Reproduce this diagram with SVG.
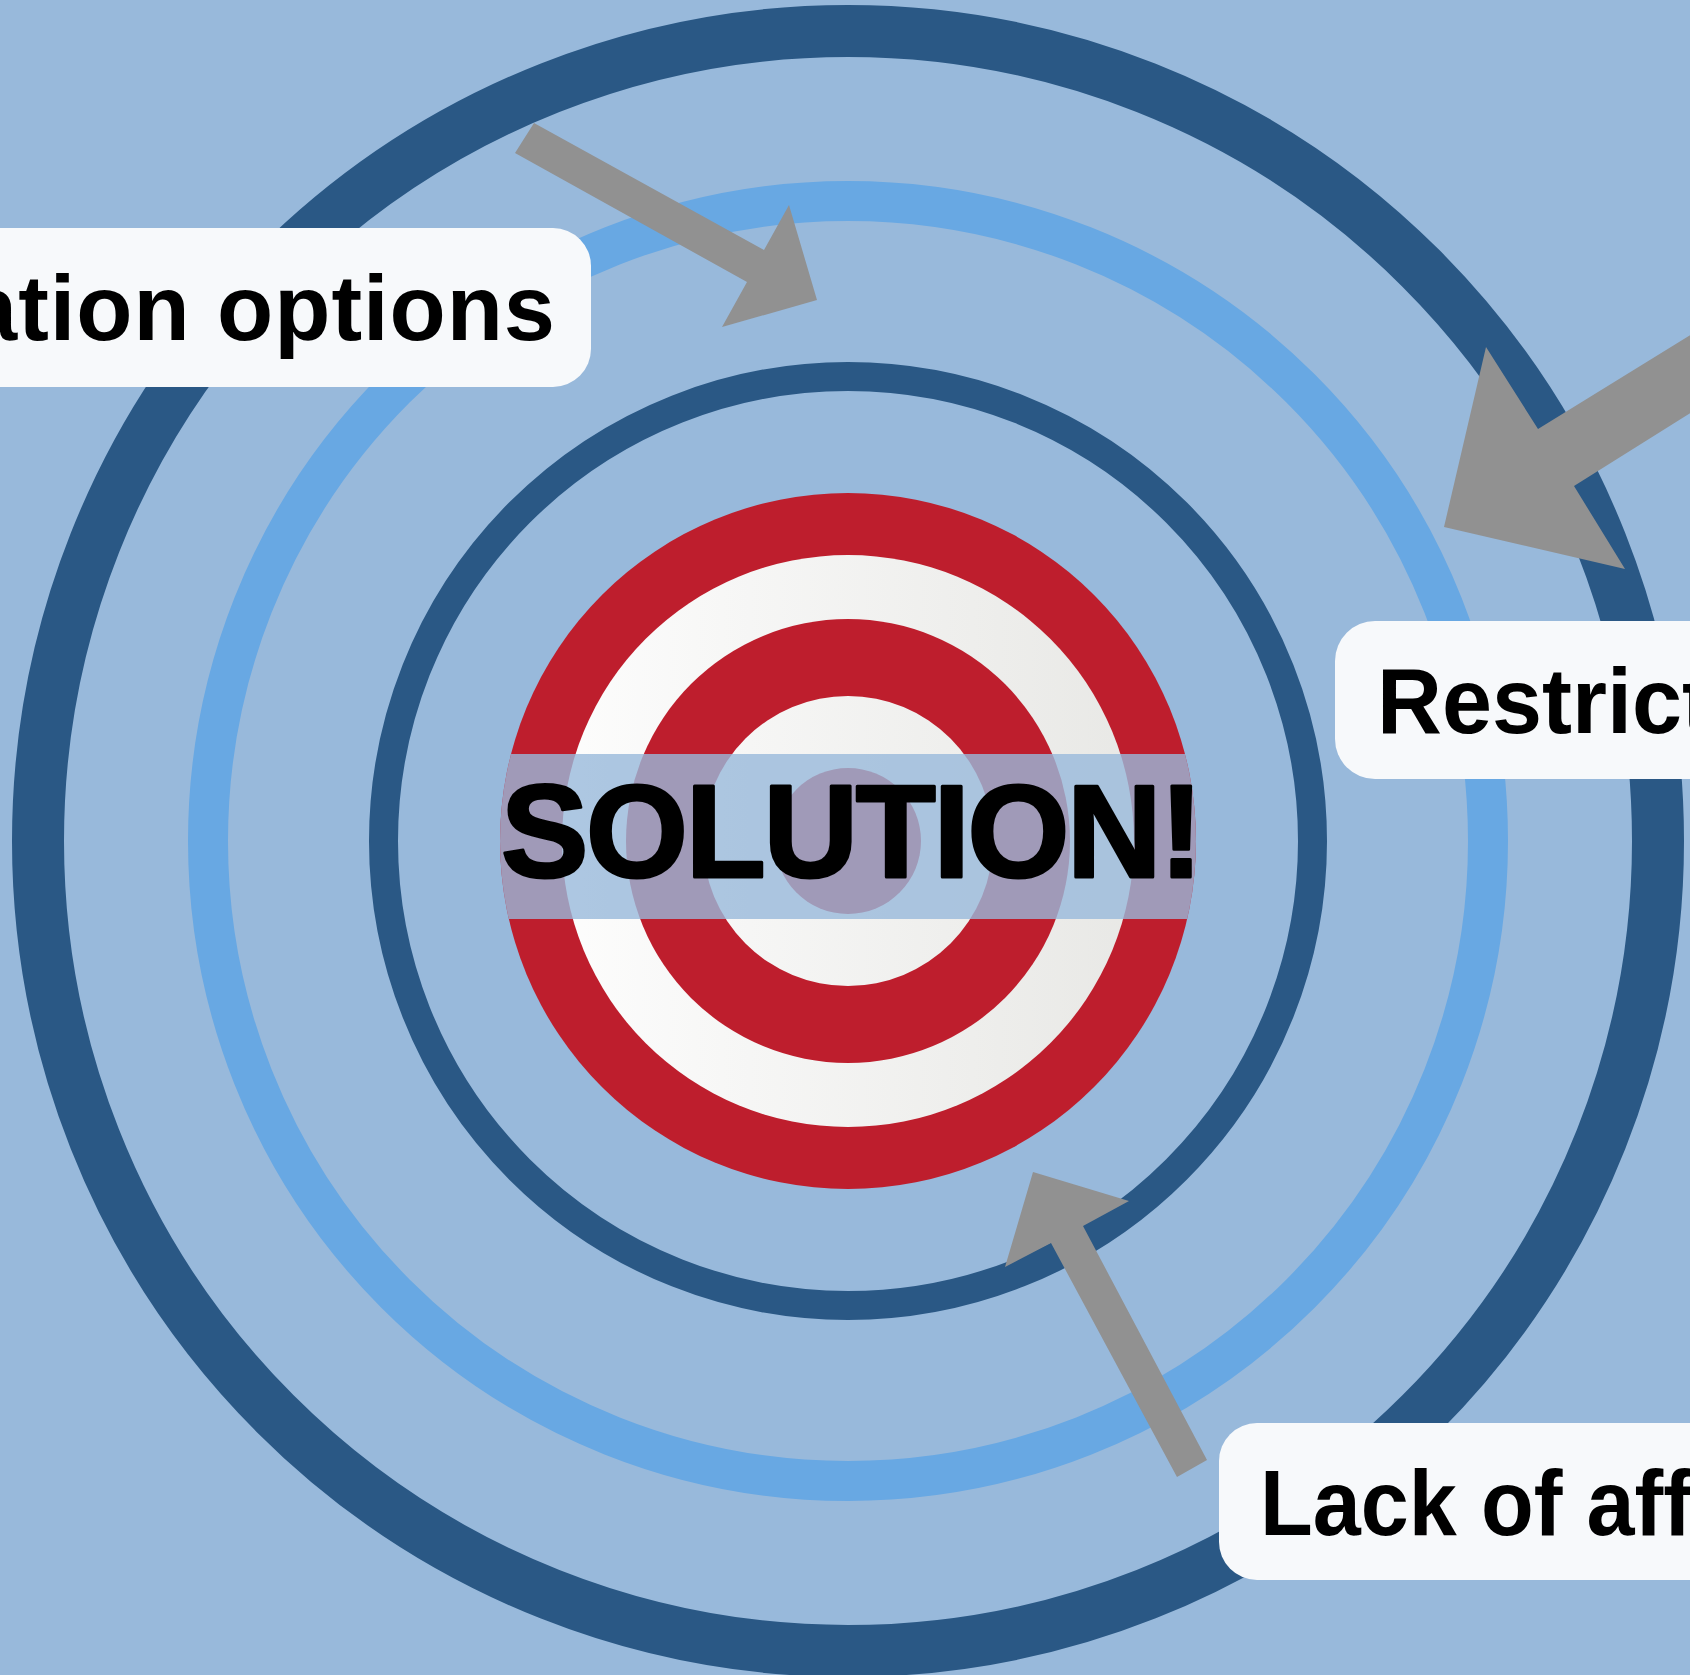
<svg xmlns="http://www.w3.org/2000/svg" width="1690" height="1675" viewBox="0 0 1690 1675">
  <style>
    .ring { fill: none; }
    .dark { stroke: #2A5885; }
    .light { stroke: #68A8E3; }
    .red { fill: #BE1E2D; }
    .white { fill: url(#wg); }
    .box { fill: #F7F9FB; }
    .lbl { font-family: "Liberation Sans", Arial, sans-serif; font-weight: bold; font-size: 92px; fill: #000; }
    .arrow { fill: #919191; }
  </style>
  <defs>
    <linearGradient id="wg" gradientUnits="userSpaceOnUse" x1="500" y1="0" x2="1196" y2="0">
      <stop offset="0" stop-color="#FFFFFF"/>
      <stop offset="1" stop-color="#E6E6E3"/>
    </linearGradient>
    <clipPath id="tc">
      <circle cx="848" cy="841" r="348"/>
    </clipPath>
  </defs>

  <rect x="0" y="0" width="1690" height="1675" fill="#98B9DB"/>

  <g id="rings">
    <circle class="ring dark" cx="848" cy="841" r="810" stroke-width="52"/>
    <circle class="ring light" cx="848" cy="841" r="640" stroke-width="40"/>
    <circle class="ring dark" cx="848" cy="841" r="464.5" stroke-width="29"/>
  </g>

  <g id="target">
    <circle class="red" cx="848" cy="841" r="348"/>
    <circle class="white" cx="848" cy="841" r="286"/>
    <circle class="red" cx="848" cy="841" r="222"/>
    <circle class="white" cx="848" cy="841" r="145"/>
    <circle class="red" cx="848" cy="841" r="73"/>
    <rect x="490" y="754" width="720" height="165" fill="#98B9DB" fill-opacity="0.8" clip-path="url(#tc)"/>
    <text x="501" y="877" textLength="702" lengthAdjust="spacing" font-family="'Liberation Sans', Arial, sans-serif" font-weight="bold" font-size="131" fill="#000" stroke="#000" stroke-width="3" stroke-linejoin="round">SOLUTION!</text>
  </g>

  <g id="connectors">
    <polygon class="arrow" points="534,123 764,250 789,205 817,300 722,327 747,282 515,153"/>
    <polygon class="arrow" points="1700,329 1538,429 1486,347 1444,527 1625,569 1574,486 1700,407"/>
    <polygon class="arrow" points="1177,1477 1051,1243 1005,1267 1033,1172 1129,1201 1083,1226 1207,1460"/>
  </g>

  <g id="label-1">
    <rect class="box" x="-40" y="228" width="631" height="159" rx="38"/>
    <text class="lbl" x="-34" y="340" textLength="589" lengthAdjust="spacing">ation options</text>
  </g>

  <g id="label-2">
    <rect class="box" x="1335" y="621" width="420" height="158" rx="40"/>
    <text class="lbl" x="1377" y="733" textLength="335" lengthAdjust="spacingAndGlyphs">Restrict</text>
  </g>

  <g id="label-3">
    <rect class="box" x="1219" y="1423" width="520" height="157" rx="38"/>
    <text class="lbl" x="1260" y="1535" font-size="95" textLength="432" lengthAdjust="spacingAndGlyphs">Lack of aff</text>
  </g>
</svg>
